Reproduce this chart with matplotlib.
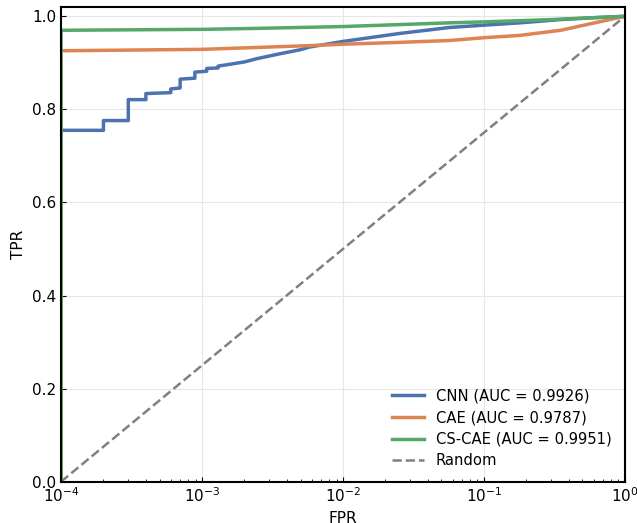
import matplotlib
matplotlib.use('Agg')
import matplotlib.pyplot as plt

# ROC points (fpr, tpr)
CNN_FPR = [1e-4, 1e-4, 2e-4, 2e-4, 3e-4, 3e-4, 4e-4, 4e-4, 6e-4, 6e-4, 7e-4, 7e-4,
           8.9e-4, 8.9e-4, 1.08e-3, 1.08e-3, 1.3e-3, 1.3e-3, 1.58e-3, 2.0e-3, 2.45e-3,
           3.5e-3, 4.95e-3, 5.8e-3, 1e-2, 2.5e-2, 5.7e-2, 0.1, 0.18, 0.35, 0.6, 1.0]
CNN_TPR = [0.0, 0.755, 0.755, 0.776, 0.776, 0.821, 0.821, 0.834, 0.836, 0.844, 0.846, 0.865,
           0.867, 0.880, 0.882, 0.888, 0.889, 0.893, 0.897, 0.902, 0.909,
           0.919, 0.928, 0.934, 0.946, 0.963, 0.976, 0.981, 0.986, 0.993, 0.997, 1.0]

CAE_FPR = [1e-4, 1e-4, 1e-3, 2.4e-3, 5.8e-3, 1e-2, 2.5e-2, 5.7e-2, 0.1, 0.18, 0.35, 0.57, 1.0]
CAE_TPR = [0.0, 0.926, 0.929, 0.933, 0.937, 0.940, 0.944, 0.948, 0.954, 0.959, 0.970, 0.984, 1.0]

CSCAE_FPR = [1e-4, 1e-4, 1e-3, 2.4e-3, 1e-2, 5.7e-2, 0.1, 0.3, 1.0]
CSCAE_TPR = [0.0, 0.970, 0.972, 0.974, 0.978, 0.986, 0.988, 0.993, 1.0]

MODELS = ['CNN', 'CAE', 'CS-CAE']
AUCS = [0.9926, 0.9787, 0.9951]
COLORS = ['#4C72B0', '#DD8452', '#55A868']

RANDOM_X = [1e-4, 1.0]
RANDOM_Y = [0.0, 1.0]


def main():
    fig = plt.figure(figsize=(6.37, 5.23), dpi=100)
    ax = fig.add_axes([0.0958, 0.079, 0.8852, 0.9076])

    curves = [(CNN_FPR, CNN_TPR), (CAE_FPR, CAE_TPR), (CSCAE_FPR, CSCAE_TPR)]
    for (fpr, tpr), name, auc, c in zip(curves, MODELS, AUCS, COLORS):
        ax.plot(fpr, tpr, color=c, lw=2.5, label=f'{name} (AUC = {auc:.4f})')
    ax.plot(RANDOM_X, RANDOM_Y, '--', color='gray', lw=1.8, label='Random')

    ax.set_xscale('log')
    ax.set_xlim(1e-4, 1.0)
    ax.set_ylim(0, 1.02)
    ax.set_xlabel('FPR', fontsize=11)
    ax.set_ylabel('TPR', fontsize=11)
    ax.tick_params(which='both', direction='in', labelsize=11)
    ax.grid(True, color='#e6e6e6', lw=0.8)
    for s in ax.spines.values():
        s.set_linewidth(1.5)
    ax.legend(loc='lower right', frameon=False, fontsize=10.6,
              labelspacing=0.45, handlelength=2.2)

    fig.savefig('out.png', dpi=100)
    plt.close(fig)


if __name__ == '__main__':
    main()
